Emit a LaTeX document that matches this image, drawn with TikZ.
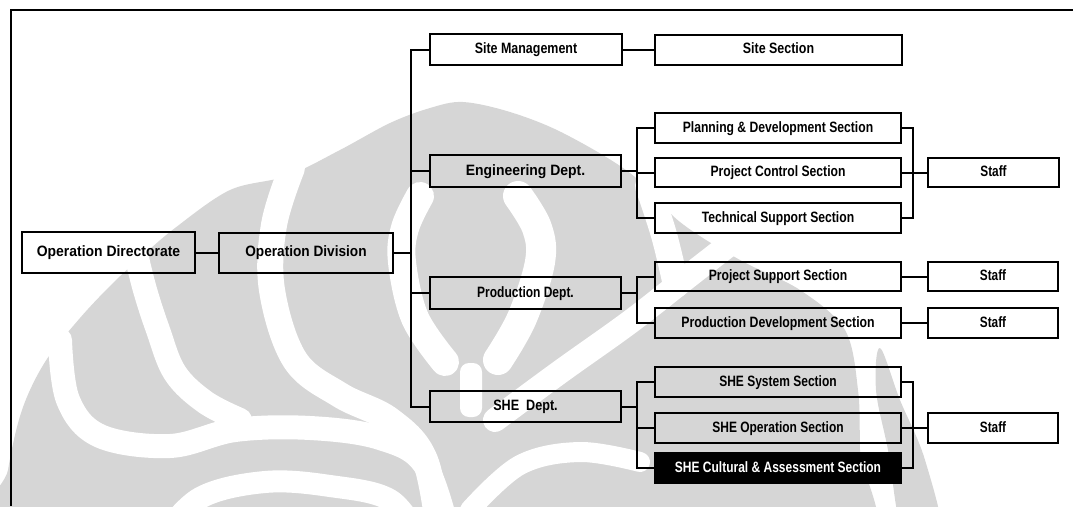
\documentclass[tikz,border=0pt]{standalone}
\usepackage{fontspec}
\usepackage{graphicx}
\setmainfont{Liberation Sans}
\definecolor{wm}{RGB}{214,214,214}
\newcommand{\hs}[2]{\scalebox{#1}[1]{#2}}
\begin{document}
\begin{tikzpicture}[x=1pt,y=-1pt,
  box/.style={draw=black, line width=2pt, inner sep=0pt, text height=10.5pt, text depth=2.5pt,
    font=\fontsize{15}{17}\selectfont\bfseries},
  conn/.style={line width=2pt, line cap=rect},
  wmw/.style={draw=white, line width=24pt, line cap=round, line join=round},
  frame/.style={line width=2pt}]
\useasboundingbox (0,0) rectangle (1073,506);
% ---- watermark ----
\fill[wm] plot[smooth cycle, tension=0.55] coordinates {(0,540) (8,470) (22,410) (45,362) (80,318) (112,284) (140,258) (175,228) (230,190) (287,176) (340,150) (390,123) (430,108) (463,102) (510,112) (563,133) (630,173) (680,222) (740,260) (800,290) (845,330) (858,390) (860,450) (862,560) (600,580) (300,580)};
\fill[wm] plot[smooth cycle, tension=0.6] coordinates {(880,348) (900,400) (925,460) (942,540) (905,540) (888,450) (876,390)};
% left bands
\draw[wmw] plot[smooth, tension=0.6] coordinates {(60,340) (68,400) (100,436) (170,446) (235,430) (310,428) (380,438) (425,465) (450,540)};
\draw[wmw] plot[smooth, tension=0.6] coordinates {(135,250) (145,290) (158,330) (175,373) (205,402) (240,420)};
\draw[wmw, line width=26pt] plot[smooth, tension=0.6] coordinates {(292,168) (274,225) (272,290) (295,360) (340,395) (390,420) (425,460) (440,540)};
% central parentheses
\draw[wmw, line width=28pt] plot[smooth, tension=0.6] coordinates {(420,196) (405,228) (402,262) (415,318) (445,362)};
\draw[wmw, line width=30pt] plot[smooth, tension=0.6] coordinates {(518,196) (537,228) (540,262) (522,318) (498,360)};
\fill[white, rounded corners=9pt] (460,363) rectangle (482,417);
% right bands
\draw[wmw, line width=26pt] plot[smooth, tension=0.6] coordinates {(648,186) (664,235) (676,285)};
\draw[wmw] plot[smooth, tension=0.6] coordinates {(495,420) (560,372) (630,322) (690,275) (735,240)};
% bottom bands
\draw[wmw, line width=22pt] plot[smooth, tension=0.6] coordinates {(160,540) (200,498) (265,482) (330,486) (390,500) (420,540)};
\draw[wmw, line width=20pt] plot[smooth, tension=0.6] coordinates {(470,510) (520,465) (580,452) (640,462)};
% ---- frame ----
\draw[frame] (1073,10) -- (11,10) -- (11,506);
% ---- nodes ----
\node[box, minimum width=173pt, minimum height=41pt] (od) at (108.5,252.5) {\hs{0.93}{Operation Directorate}};
\node[box, minimum width=174pt, minimum height=40pt] (odiv) at (306,252.5) {\hs{0.91}{Operation Division}};
\node[box, minimum width=192pt, minimum height=31pt] (site) at (526,49.5) {\hs{0.83}{Site Management}};
\node[box, minimum width=247pt, minimum height=30pt] (sites) at (778.5,49.5) {\hs{0.83}{Site Section}};
\node[box, minimum width=191pt, minimum height=32pt] (eng) at (525.5,171) {\hs{0.93}{Engineering Dept.}};
\node[box, minimum width=191pt, minimum height=32pt] (prod) at (525.5,293) {\hs{0.80}{Production Dept.}};
\node[box, minimum width=191pt, minimum height=31pt] (she) at (525.5,406.5) {\hs{0.84}{SHE\ \ Dept.}};
\node[box, minimum width=246pt, minimum height=30pt] (plan) at (778,128) {\hs{0.81}{Planning \& Development Section}};
\node[box, minimum width=246pt, minimum height=29pt] (pcs) at (778,172.5) {\hs{0.81}{Project Control Section}};
\node[box, minimum width=246pt, minimum height=30pt] (tss) at (778,218) {\hs{0.81}{Technical Support Section}};
\node[box, minimum width=246pt, minimum height=29pt] (pss) at (778,276.5) {\hs{0.81}{Project Support Section}};
\node[box, minimum width=246pt, minimum height=30pt] (pds) at (778,323) {\hs{0.82}{Production Development Section}};
\node[box, minimum width=246pt, minimum height=30pt] (shs) at (778,382) {\hs{0.80}{SHE System Section}};
\node[box, minimum width=246pt, minimum height=30pt] (sho) at (778,428) {\hs{0.80}{SHE Operation Section}};
\node[box, fill=black, text=white, minimum width=246pt, minimum height=30pt] (shc) at (778,468) {\hs{0.80}{SHE Cultural \& Assessment Section}};
\node[box, minimum width=131pt, minimum height=29pt] (st1) at (993.5,172.5) {\hs{0.79}{Staff}};
\node[box, minimum width=130pt, minimum height=29pt] (st2) at (993,276.5) {\hs{0.79}{Staff}};
\node[box, minimum width=130pt, minimum height=30pt] (st3) at (993,323) {\hs{0.79}{Staff}};
\node[box, minimum width=130pt, minimum height=30pt] (st4) at (993,428) {\hs{0.79}{Staff}};
% ---- bus coordinates ----
\coordinate (mb) at (411,0);
\coordinate (eb) at (637,0);
\coordinate (rb) at (913,0);
% ---- connectors ----
\draw[conn] (od.east) -- (odiv.west);
\draw[conn] (odiv.east) -- (odiv.east -| mb);
\draw[conn] (site.west -| mb) -- (she.west -| mb);
\foreach \n in {site,eng,prod,she} \draw[conn] (\n.west) -- (\n.west -| mb);
\draw[conn] (site.east) -- (sites.west);
% engineering
\draw[conn] (eng.east) -- (eng.east -| eb);
\draw[conn] (plan.west -| eb) -- (tss.west -| eb);
\foreach \n in {plan,pcs,tss} \draw[conn] (\n.west) -- (\n.west -| eb);
\draw[conn] (plan.east -| rb) -- (tss.east -| rb);
\foreach \n in {plan,pcs,tss} \draw[conn] (\n.east) -- (\n.east -| rb);
\draw[conn] (st1.west) -- (st1.west -| rb);
% production
\draw[conn] (prod.east) -- (prod.east -| eb);
\draw[conn] (pss.west -| eb) -- (pds.west -| eb);
\foreach \n in {pss,pds} \draw[conn] (\n.west) -- (\n.west -| eb);
\draw[conn] (pss.east) -- (st2.west);
\draw[conn] (pds.east) -- (st3.west);
% SHE
\draw[conn] (she.east) -- (she.east -| eb);
\draw[conn] (shs.west -| eb) -- (shc.west -| eb);
\foreach \n in {shs,sho,shc} \draw[conn] (\n.west) -- (\n.west -| eb);
\draw[conn] (shs.east -| rb) -- (shc.east -| rb);
\foreach \n in {shs,sho,shc} \draw[conn] (\n.east) -- (\n.east -| rb);
\draw[conn] (st4.west) -- (st4.west -| rb);
\end{tikzpicture}
\end{document}
